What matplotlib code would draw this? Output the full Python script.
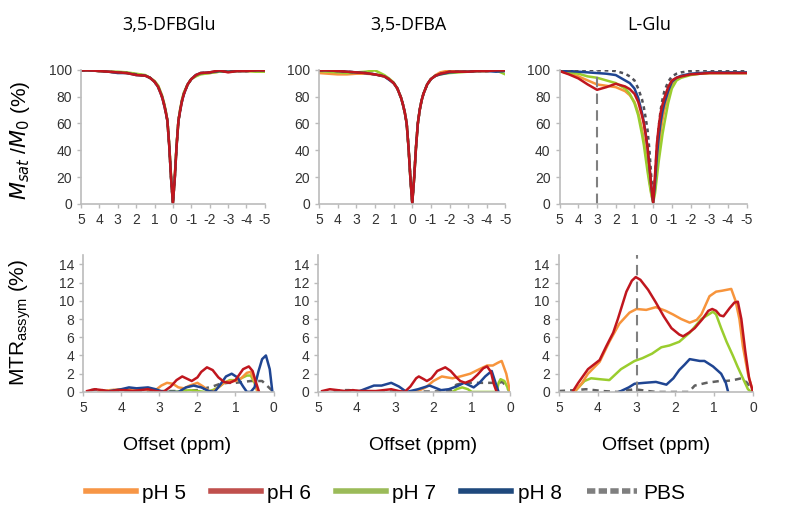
import numpy as np
import matplotlib
matplotlib.use("Agg")
import matplotlib.pyplot as plt
from matplotlib.lines import Line2D

plt.rcParams['font.family'] = ['Liberation Sans', 'DejaVu Sans']
plt.rcParams['axes.unicode_minus'] = False

# colores de las series
c_ph5 = '#F7943C'
c_ph6 = '#C0161E'
c_ph7 = '#9ACD2E'
c_ph8 = '#1F4592'
c_pbs = '#505058'

titulos = ['3,5-DFBGlu', '3,5-DFBA', 'L-Glu']
etiquetas = ['pH 5', 'pH 6', 'pH 7', 'pH 8', 'PBS']

# ---- espectros Z (Msat/M0, %) ----
z_off = [5, 4.5, 4, 3.5, 3, 2.5, 2, 1.5, 1.25, 1, 0.8, 0.6, 0.5, 0.4, 0.3, 0.2, 0.1, 0,
         -0.1, -0.2, -0.3, -0.4, -0.5, -0.6, -0.8, -1, -1.25, -1.5, -2, -2.5, -3, -3.5, -4, -4.5, -5]

dfbglu_z_ph5 = [99.5, 99.5, 99, 98.5, 98, 97.5, 96.5, 95.5, 94, 91.5, 88, 81, 76, 70, 62, 44, 20, 1,
                20, 44, 62, 71, 78, 83, 89, 93, 95.5, 97, 97.5, 98.5, 98.5, 99, 99, 99, 99]
dfbglu_z_ph6 = [99.5, 99.5, 99, 98.5, 98, 97.5, 96, 95.5, 94, 91, 87, 80, 75, 69, 62, 43, 19, 0.5,
                19, 43, 62, 70, 77, 82, 89, 93, 96, 97.5, 98, 99.5, 98, 99, 99, 99.5, 99.5]
dfbglu_z_ph7 = [99.5, 99.5, 99, 98.5, 98.5, 98, 97, 96, 94, 91.5, 88, 81, 76, 70, 62, 44, 20, 1,
                20, 44, 62, 71, 78, 83, 89, 93, 95, 96.5, 97.5, 98.5, 98.5, 99, 99, 98.5, 98.5]
dfbglu_z_ph8 = [99.5, 99.5, 99, 98.5, 97.5, 97.5, 96, 95.5, 94, 91, 87, 80, 75, 69, 62, 43, 19, 0.5,
                19, 43, 62, 70, 77, 82, 89, 93, 96, 97.5, 98, 99, 98.5, 99, 99, 99.5, 99.5]
dfbglu_z_pbs = [99.5, 99.5, 99, 98.5, 98, 97.5, 96.5, 95.5, 94, 91, 87, 80, 75, 69, 62, 43, 19, 0.5,
                19, 43, 62, 70, 77, 82, 89, 93, 96, 97.5, 98, 99, 98.5, 99, 99, 99.5, 99.5]

dfba_z_ph5 = [97.5, 97, 96.5, 96.5, 97, 97, 96.5, 95, 93, 90, 86, 79, 74, 68, 60, 42, 19, 1,
              19, 42, 60, 70, 77, 82, 89, 93, 96, 98, 99.5, 99, 98.5, 99, 99, 99.5, 99.5]
dfba_z_ph6 = [99.5, 99.5, 99, 98.5, 98, 97.5, 96.5, 95, 93, 90, 86, 79, 74, 68, 60, 42, 19, 0.5,
              19, 42, 60, 70, 77, 82, 89, 93, 95.5, 97, 98.5, 98.5, 98.5, 99, 99, 99.5, 99.5]
dfba_z_ph7 = [99, 98.5, 98, 97.5, 98, 98.5, 99.5, 96, 93.5, 90.5, 86, 79, 74, 68, 60, 42, 19, 1,
              19, 42, 60, 70, 77, 82, 89, 93, 95.5, 96.5, 97.5, 98, 98.5, 99, 99, 99.5, 96.5]
dfba_z_ph8 = [99.5, 99.5, 99, 98.5, 98, 97.5, 96.5, 95, 92.5, 90, 86, 79, 74, 68, 60, 42, 19, 0.5,
              19, 42, 60, 70, 77, 82, 89, 93, 95.5, 96.5, 98, 98.5, 98.5, 99, 99, 98.5, 99]
dfba_z_pbs = [99.5, 99.5, 99, 98.5, 98, 97.5, 96.5, 95, 93, 90, 86, 79, 74, 68, 60, 42, 19, 0.5,
              19, 42, 60, 70, 77, 82, 89, 93, 95.5, 97, 98.5, 98.5, 98.5, 99, 99, 99.5, 99.5]

glu_z_ph5 = [99, 97, 95, 92, 89, 88, 87, 84, 81, 76, 68, 56, 48, 38, 28, 18, 8, 1,
             12, 28, 42, 54, 63, 70, 81, 89, 93, 95, 96.5, 97, 97.5, 97.5, 97.5, 97.5, 97.5]
glu_z_ph6 = [99, 96.5, 93.5, 89, 85, 87, 89.5, 87.5, 85.5, 82, 76, 66, 60, 52, 42, 28, 13, 1,
             22, 45, 58, 68, 74, 79, 87, 92, 94, 95, 96.5, 97, 97.5, 97.5, 97.5, 97.5, 97.5]
glu_z_ph7 = [99, 98, 97, 95, 94, 92, 90, 86, 82, 75, 66, 52, 44, 34, 24, 15, 7, 1,
             8, 20, 32, 42, 52, 60, 75, 86, 92, 94, 96, 97, 97.5, 97.5, 97.5, 97.5, 97.5]
glu_z_ph8 = [99.5, 99, 98.5, 98, 97.5, 97, 96, 92, 90, 86, 79, 68, 61, 52, 42, 28, 13, 1,
             16, 36, 50, 61, 69, 75, 84, 91, 94, 95.5, 97, 97.5, 98, 98, 98, 98, 98]
glu_z_pbs = [100, 100, 100, 100, 99.5, 99.5, 99, 97, 95, 92, 86, 78, 72, 64, 55, 40, 20, 2,
             20, 42, 58, 70, 78, 84, 91, 95, 97, 98, 99, 99.5, 99.5, 99.5, 99.5, 99.5, 99.5]

# ---- MTR asimetria (%) ----
dfbglu_x_ph5 = [4.6, 4.3, 4.0, 3.7, 3.4, 3.1, 2.95, 2.8, 2.65, 2.5, 2.35, 2.2, 2.0, 1.85, 1.7, 1.6,
                1.45, 1.3, 1.15, 1.0, 0.85, 0.7, 0.6, 0.5, 0.42]
dfbglu_mtr_ph5 = [0, 0.2, 0.3, 0.3, 0.3, 0.2, 0.7, 1.0, 0.9, 0.5, 0.4, 0.7, 1.0, 0.6, 0.1, 0,
                  0.5, 1.0, 1.2, 1.2, 1.5, 2.1, 2.2, 1.2, 0]
dfbglu_x_ph6 = [4.9, 4.7, 4.5, 4.3, 4.1, 3.9, 3.7, 3.5, 3.3, 3.1, 2.9, 2.7, 2.55, 2.4, 2.3, 2.15,
                2.0, 1.9, 1.75, 1.6, 1.45, 1.3, 1.15, 1.0, 0.9, 0.8, 0.65, 0.55, 0.45, 0.38]
dfbglu_mtr_ph6 = [0.1, 0.3, 0.2, 0.05, 0.2, 0.2, 0.1, 0.2, 0.3, 0.1, 0, 0.6, 1.3, 1.7, 1.5, 1.2,
                  1.6, 2.2, 2.7, 2.4, 1.6, 1.1, 1.0, 1.3, 1.9, 2.5, 2.8, 2.3, 0.9, 0]
dfbglu_x_ph7 = [2.8, 2.6, 2.4, 2.2, 2.0, 1.8, 1.6, 1.45, 1.3, 1.15, 1.0, 0.85, 0.7, 0.6, 0.5, 0.42]
dfbglu_mtr_ph7 = [0, 0, 0.1, 0.2, 0.1, 0, 0.2, 0.5, 1.0, 1.3, 1.3, 1.5, 1.8, 1.8, 1.0, 0]
dfbglu_x_ph8 = [4.3, 4.0, 3.8, 3.6, 3.3, 3.1, 2.9, 2.5, 2.3, 2.1, 1.9, 1.7, 1.55, 1.4, 1.25, 1.1,
                0.95, 0.8, 0.7, 0.6, 0.5, 0.4, 0.3, 0.2, 0.1, 0.03]
dfbglu_mtr_ph8 = [0.1, 0.3, 0.5, 0.4, 0.5, 0.3, 0, 0, 0.5, 0.7, 0.5, 0.1, 0, 0.8, 1.7, 2.0,
                  1.6, 0.6, 0, 0, 0.5, 2.2, 3.6, 4.0, 2.5, 0]
dfbglu_x_pbs = [4.8, 4.6, 4.4, 4.2, 4.0, 3.5, 3.0, 2.5, 2.0, 1.6, 1.4, 1.2, 1.0, 0.8, 0.6, 0.4,
                0.3, 0.2, 0.1, 0.0]
dfbglu_mtr_pbs = [0.2, 0.3, 0.1, 0.2, 0.1, 0.05, 0.1, 0.1, 0.2, 0.6, 0.9, 1.0, 1.0, 1.1, 1.2, 1.2,
                  1.2, 0.8, 0.4, 0]

dfba_x_ph5 = [2.5, 2.35, 2.2, 2.0, 1.78, 1.65, 1.5, 1.3, 1.04, 0.8, 0.6, 0.45, 0.32, 0.22, 0.1, 0.0]
dfba_mtr_ph5 = [0, 0.2, 0.5, 1.2, 1.7, 1.6, 1.5, 1.7, 2.0, 2.5, 2.9, 2.9, 3.2, 3.4, 2.0, 0]
dfba_x_ph6 = [4.9, 4.7, 4.5, 4.3, 4.1, 3.9, 3.7, 3.5, 3.3, 3.1, 2.9, 2.75, 2.6, 2.45, 2.38, 2.25,
              2.17, 2.05, 1.9, 1.69, 1.55, 1.4, 1.3, 1.17, 1.0, 0.85, 0.7, 0.6, 0.5, 0.42, 0.35]
dfba_mtr_ph6 = [0.1, 0.3, 0.2, 0.1, 0.2, 0.1, 0.1, 0.1, 0.2, 0.3, 0.1, 0, 0.6, 1.5, 1.7, 1.4,
                1.2, 1.5, 2.3, 2.7, 2.3, 1.6, 1.2, 1.0, 1.3, 1.9, 2.6, 2.8, 2.2, 0.8, 0]
dfba_x_ph7 = [1.5, 1.4, 1.25, 1.1, 1.0, 0.35, 0.3, 0.25, 0.15, 0.08, 0.02]
dfba_mtr_ph7 = [0, 0.3, 0.5, 0.3, 0, 0, 1.0, 1.4, 1.2, 0.6, 0]
dfba_x_ph8 = [3.98, 3.8, 3.55, 3.35, 3.1, 2.9, 2.7, 2.4, 2.1, 1.8, 1.6, 1.4, 1.2, 0.95, 0.8,
              0.65, 0.48, 0.38, 0.3]
dfba_mtr_ph8 = [0, 0.3, 0.7, 0.7, 1.0, 0.6, 0, 0.3, 0.7, 0.2, 0.3, 0.6, 1.0, 0.5, 1.0,
                1.7, 2.3, 1.0, 0]
dfba_x_pbs = [4.6, 4.4, 4.2, 4.0, 3.0, 2.0, 1.56, 1.4, 1.2, 1.0, 0.8, 0.6, 0.4, 0.3, 0.2, 0.1, 0.0]
dfba_mtr_pbs = [0.1, 0.2, 0.2, 0.1, 0.05, 0.05, 0.1, 0.8, 1.0, 1.0, 1.0, 1.0, 1.0, 1.0, 1.1, 0.6, 0]

glu_x_ph5 = [4.6, 4.4, 4.25, 3.95, 3.7, 3.44, 3.18, 3.0, 2.75, 2.5, 2.25, 2.06, 1.85, 1.63, 1.45,
             1.33, 1.12, 0.95, 0.8, 0.56, 0.45, 0.35, 0.26, 0.13, 0.0]
glu_mtr_ph5 = [0, 1.0, 2.0, 3.3, 5.5, 7.5, 8.7, 9.1, 9.0, 9.3, 8.9, 8.5, 8.0, 7.6, 7.9,
               8.5, 10.5, 11.0, 11.1, 11.3, 10.0, 8.0, 5.0, 2.0, 0]
glu_x_ph6 = [4.65, 4.5, 4.25, 3.95, 3.78, 3.6, 3.48, 3.26, 3.12, 3.02, 2.9, 2.7, 2.5, 2.3, 2.1,
             1.9, 1.8, 1.65, 1.5, 1.3, 1.15, 1.05, 0.95, 0.85, 0.76, 0.6, 0.48, 0.39, 0.3, 0.2,
             0.1, 0.0]
glu_mtr_ph6 = [0, 1.0, 2.5, 3.5, 5.0, 6.5, 8.0, 11.0, 12.2, 12.6, 12.3, 11.2, 9.8, 8.3, 7.0,
               6.3, 6.1, 6.5, 7.0, 8.0, 8.9, 9.1, 8.9, 8.4, 8.3, 9.2, 9.8, 9.9, 8.0, 4.5,
               1.5, 0]
glu_x_ph7 = [4.6, 4.34, 4.17, 3.95, 3.7, 3.4, 3.05, 2.85, 2.6, 2.36, 2.15, 1.9, 1.63, 1.33, 1.03,
             0.95, 0.82, 0.68, 0.52, 0.4, 0.26, 0.13, 0.04]
glu_mtr_ph7 = [0, 1.2, 1.5, 1.4, 1.3, 2.5, 3.4, 3.7, 4.2, 4.9, 5.1, 5.5, 6.5, 8.0, 8.8,
               8.5, 7.0, 5.5, 4.0, 2.8, 1.5, 0.3, 0]
glu_x_ph8 = [3.45, 3.2, 3.05, 2.8, 2.5, 2.23, 2.05, 1.9, 1.76, 1.63, 1.5, 1.37, 1.25, 1.03, 0.82,
             0.7, 0.64]
glu_mtr_ph8 = [0, 0.5, 0.9, 1.0, 1.1, 0.8, 1.5, 2.4, 3.0, 3.6, 3.5, 3.4, 3.4, 2.8, 2.0,
               1.0, 0]
glu_x_pbs = [5.0, 4.6, 4.3, 3.87, 3.5, 3.05, 2.7, 2.5, 1.65, 1.5, 1.2, 0.86, 0.7, 0.5, 0.3, 0.15, 0.0]
glu_mtr_pbs = [0.1, 0.2, 0.3, 0.1, 0, 0.3, 0.1, 0, 0, 0.7, 1.0, 1.2, 1.2, 1.3, 1.5, 1.0, 0]

z_series = [
    [dfbglu_z_ph5, dfbglu_z_ph7, dfbglu_z_ph8, dfbglu_z_pbs, dfbglu_z_ph6],
    [dfba_z_ph5, dfba_z_ph7, dfba_z_ph8, dfba_z_pbs, dfba_z_ph6],
    [glu_z_ph5, glu_z_ph7, glu_z_ph8, glu_z_pbs, glu_z_ph6],
]
mtr_series = [
    [(dfbglu_x_pbs, dfbglu_mtr_pbs), (dfbglu_x_ph7, dfbglu_mtr_ph7), (dfbglu_x_ph5, dfbglu_mtr_ph5),
     (dfbglu_x_ph8, dfbglu_mtr_ph8), (dfbglu_x_ph6, dfbglu_mtr_ph6)],
    [(dfba_x_pbs, dfba_mtr_pbs), (dfba_x_ph7, dfba_mtr_ph7), (dfba_x_ph5, dfba_mtr_ph5),
     (dfba_x_ph8, dfba_mtr_ph8), (dfba_x_ph6, dfba_mtr_ph6)],
    [(glu_x_pbs, glu_mtr_pbs), (glu_x_ph7, glu_mtr_ph7), (glu_x_ph5, glu_mtr_ph5),
     (glu_x_ph8, glu_mtr_ph8), (glu_x_ph6, glu_mtr_ph6)],
]
z_colores = [c_ph5, c_ph7, c_ph8, c_pbs, c_ph6]
mtr_colores = [c_pbs, c_ph7, c_ph5, c_ph8, c_ph6]

fig = plt.figure(figsize=(7.86, 5.24), dpi=100)

pos_top = [[0.103, 0.611, 0.234, 0.256], [0.406, 0.611, 0.237, 0.256], [0.712, 0.611, 0.238, 0.256]]
pos_bot = [[0.106, 0.252, 0.242, 0.261], [0.405, 0.252, 0.244, 0.261], [0.711, 0.252, 0.247, 0.261]]


def estilo(ax):
    for s in ['top', 'right']:
        ax.spines[s].set_visible(False)
    for s in ['left', 'bottom']:
        ax.spines[s].set_color('#BBBBBB')
        ax.spines[s].set_linewidth(1.2)
    ax.tick_params(colors='#BBBBBB', labelcolor='#333333', labelsize=10, length=3, width=1)


for i in range(3):
    ax = fig.add_axes(pos_top[i])
    for serie, col in zip(z_series[i], z_colores):
        if col == c_pbs:
            ax.plot(z_off, serie, color=col, lw=1.8, ls=(0, (1.5, 1.5)))
        else:
            ax.plot(z_off, serie, color=col, lw=1.8)
    ax.set_xlim(5, -5)
    ax.set_ylim(0, 100)
    ax.set_xticks(range(5, -6, -1))
    ax.set_yticks(range(0, 101, 20))
    if i == 2:
        ax.axvline(3, color='#808080', lw=1.5, ls=(0, (5, 3)))
    estilo(ax)
    fig.text(pos_top[i][0] + pos_top[i][2] / 2 - 0.005, 0.952, titulos[i], ha='center', va='center',
             fontsize=13, family=['Open Sans', 'DejaVu Sans'])

    ax = fig.add_axes(pos_bot[i])
    for (xs, ys), col in zip(mtr_series[i], mtr_colores):
        if col == c_pbs:
            ax.plot(xs, ys, color='#606060', lw=1.8, ls=(0, (2.5, 2)))
        else:
            ax.plot(xs, ys, color=col, lw=1.8)
    ax.set_xlim(5, 0)
    ax.set_ylim(0, 15)
    ax.set_xticks(range(5, -1, -1))
    ax.set_yticks(range(0, 15, 2))
    if i == 2:
        ax.axvline(3, color='#808080', lw=1.5, ls=(0, (5, 3)))
    estilo(ax)

fig.text(0.225, 0.15, 'Offset (ppm)', ha='center', va='center', fontsize=14)
fig.text(0.538, 0.15, 'Offset (ppm)', ha='center', va='center', fontsize=14)
fig.text(0.835, 0.15, 'Offset (ppm)', ha='center', va='center', fontsize=14)

fig.text(0.025, 0.733, r'$M_{sat}$ /$M_0$ (%)', rotation=90, ha='center', va='center', fontsize=15)
fig.text(0.025, 0.385, r'MTR$_{\mathregular{assym}}$ (%)', rotation=90, ha='center', va='center', fontsize=15)

handles = [Line2D([], [], color=c, lw=4) for c in ['#F79646', '#C0504D', '#9BBB59', '#1F497D']]
handles.append(Line2D([], [], color='#7F7F7F', lw=4, ls=(0, (1.5, 0.6))))
fig.legend(handles, etiquetas, loc='center', bbox_to_anchor=(0.49, 0.059), ncol=5, frameon=False,
           fontsize=15, handlelength=2.4, handletextpad=0.3, columnspacing=1.2)

fig.savefig('out.png', dpi=100)
